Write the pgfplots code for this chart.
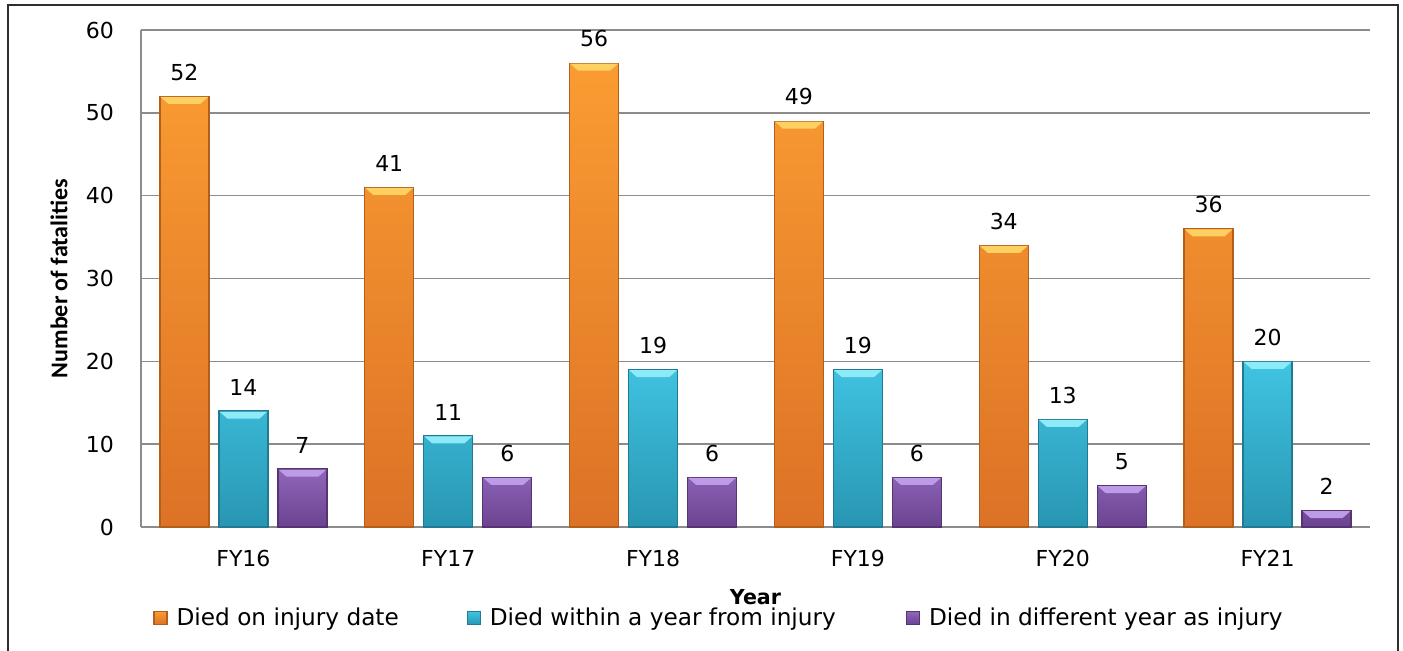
\documentclass[border=0pt]{standalone}
\usepackage{pgfplots}
\pgfplotsset{compat=1.18}
\usepackage{fontspec}
\setmainfont{DejaVu Sans}
\newfontfamily\calibri{Carlito}

% bar palette: body gradient, edge, bevel highlight
\definecolor{orTop}{HTML}{FA9C32}
\definecolor{orBot}{HTML}{DC7226}
\definecolor{orEdge}{HTML}{B45E1C}
\definecolor{orCap}{HTML}{FDD062}
\definecolor{blTop}{HTML}{40C4E2}
\definecolor{blBot}{HTML}{2896B2}
\definecolor{blEdge}{HTML}{217A92}
\definecolor{blCap}{HTML}{8DEBF9}
\definecolor{puTop}{HTML}{9066BA}
\definecolor{puBot}{HTML}{6B4390}
\definecolor{puEdge}{HTML}{553473}
\definecolor{puCap}{HTML}{BE9BE6}
\definecolor{gridgray}{HTML}{8C8C8C}
\definecolor{framegray}{HTML}{2E2E2E}

% bevelled top face of a bar, drawn as a plot mark at the bar's value
\pgfdeclareplotmark{bevelcap}{%
  \pgfpathmoveto{\pgfpoint{-11.95pt}{-0.3pt}}%
  \pgfpathlineto{\pgfpoint{11.95pt}{-0.3pt}}%
  \pgfpathlineto{\pgfpoint{8pt}{-3.8pt}}%
  \pgfpathlineto{\pgfpoint{-8pt}{-3.8pt}}%
  \pgfpathclose
  \pgfusepath{fill}}

\pgfplotsset{
  bevelbar/.style n args={3}{
    ybar, bar shift=0pt,
    draw=#3, line width=0.6pt, top color=#1, bottom color=#2,
    nodes near coords,
  },
  capmarks/.style={only marks, mark=bevelcap, forget plot,
    mark options={fill=#1, draw=none}},
  sqlegend/.style={legend image code/.code={
      \draw[##1] (0pt,-3.25pt) rectangle (6.5pt,3.25pt);}},
}

\begin{document}
\begin{tikzpicture}[x=1pt,y=1pt]
\useasboundingbox (0,0) rectangle (701.5,325.5);
\draw[line width=1pt, color=framegray] (4,-3) rectangle (699,323);
\begin{axis}[
  at={(70.5pt,62pt)}, anchor=south west,
  scale only axis, width=614.5pt, height=248.5pt,
  xmin=-0.5, xmax=5.5, ymin=0, ymax=60,
  ytick={0,10,...,60},
  xtick={0,...,5},
  xticklabels={FY16,FY17,FY18,FY19,FY20,FY21},
  /pgf/number format/assume math mode=true,
  axis x line*=bottom, axis y line*=left,
  axis line style={gridgray, line width=0.75pt, -},
  ymajorgrids, grid style={gridgray, line width=0.75pt},
  major tick length=0pt,
  tick label style={font=\fontsize{11}{13}\selectfont, black},
  yticklabel style={xshift=-10pt},
  xticklabel style={yshift=-8pt},
  xlabel={Year},
  xlabel style={at={(axis description cs:0.5,0)}, anchor=north,
    yshift=-27.5pt, font=\fontsize{10.3}{12}\selectfont\bfseries},
  ylabel={Number of fatalities},
  ylabel style={at={(axis description cs:0,0.5)}, anchor=center,
    yshift=41pt, font=\calibri\fontsize{12}{14}\selectfont\bfseries},
  bar width=24.5pt,
  clip=false,
  every node near coord/.append style={font=\fontsize{11}{13}\selectfont,
    text=black, anchor=south, yshift=4.3pt},
  legend columns=3,
  legend style={at={(axis description cs:0,0)}, anchor=west,
    xshift=3pt, yshift=-45.5pt, draw=none, fill=none,
    font=\fontsize{11.6}{13}\selectfont,
    /tikz/every even column/.append style={column sep=0pt}},
  legend cell align=left,
]
% died on injury date
\addplot[bevelbar={orTop}{orBot}{orEdge}, xshift=-29.5pt, sqlegend]
  coordinates {(0,52) (1,41) (2,56) (3,49) (4,34) (5,36)};
\addlegendentry{\makebox[145.5pt][l]{\hspace{2.5pt}Died on injury date}}
% died within a year from injury
\addplot[bevelbar={blTop}{blBot}{blEdge}, sqlegend]
  coordinates {(0,14) (1,11) (2,19) (3,19) (4,13) (5,20)};
\addlegendentry{\makebox[208.5pt][l]{\hspace{2.5pt}Died within a year from injury}}
% died in different year as injury
\addplot[bevelbar={puTop}{puBot}{puEdge}, xshift=29.5pt, sqlegend]
  coordinates {(0,7) (1,6) (2,6) (3,6) (4,5) (5,2)};
\addlegendentry{\hspace{2.5pt}Died in different year as injury}
% bevelled tops
\addplot[capmarks=orCap, xshift=-29.5pt]
  coordinates {(0,52) (1,41) (2,56) (3,49) (4,34) (5,36)};
\addplot[capmarks=blCap]
  coordinates {(0,14) (1,11) (2,19) (3,19) (4,13) (5,20)};
\addplot[capmarks=puCap, xshift=29.5pt]
  coordinates {(0,7) (1,6) (2,6) (3,6) (4,5) (5,2)};
\end{axis}
\end{tikzpicture}
\end{document}
